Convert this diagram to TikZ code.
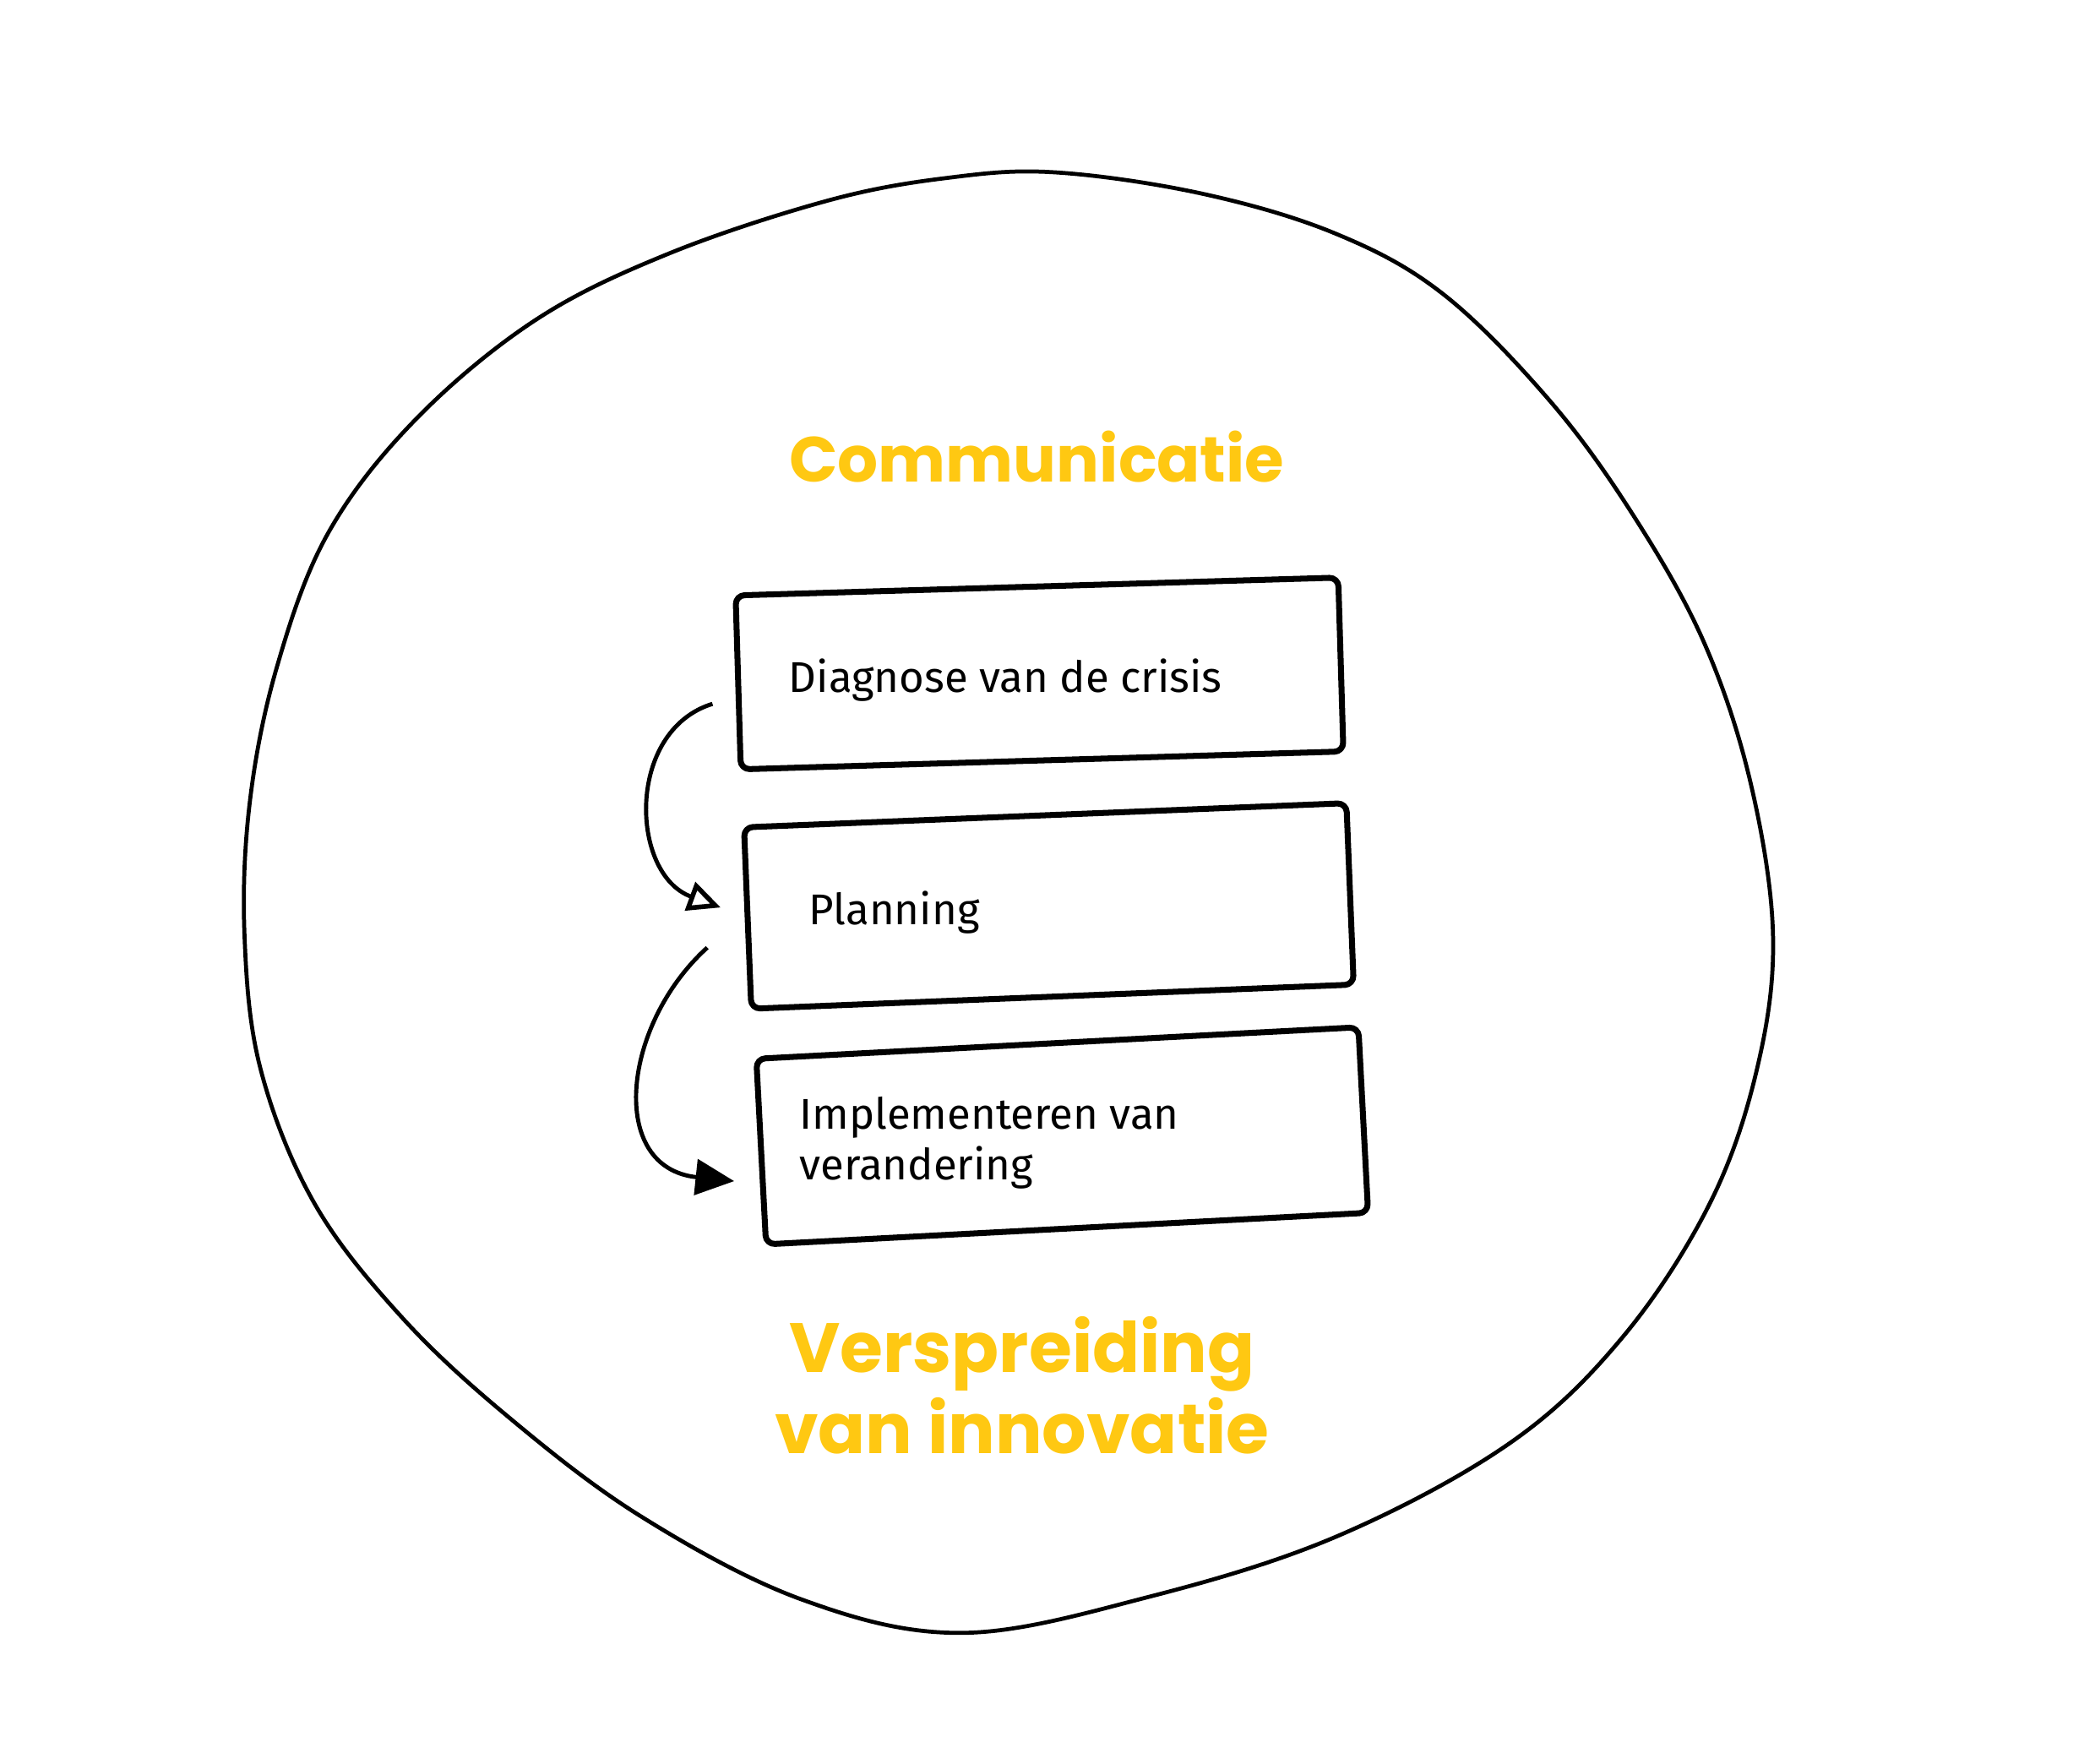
\documentclass[tikz,border=0pt]{standalone}
\usepackage{fontspec}
\setmainfont{Fira Sans}
\newfontfamily\titlefont{Poppins}
\usetikzlibrary{arrows.meta, positioning}
\definecolor{mYellow}{HTML}{FFC812}

\begin{document}
\begin{tikzpicture}[
    x=0.015816cm, y=-0.015816cm,
    ring/.style={draw, line width=1.35pt, line join=round},
    stepbox/.style={draw, line width=2pt, rounded corners=3pt, line join=round,
        minimum width=7.14cm, inner sep=0pt},
    label/.style={font=\fontsize{14.5}{17}\selectfont, anchor=base west, align=left, inner sep=0pt},
    title/.style={font=\titlefont\bfseries\fontsize{23.5}{27.5}\selectfont, text=mYellow,
        align=center, inner sep=0pt},
    arr/.style={line width=1.4pt, -{Triangle[length=13pt, width=12pt]}},
    arropen/.style={line width=1.4pt, -{Triangle[open, length=11pt, width=10pt, line width=1.6pt]}}
]
    \useasboundingbox (0,0) rectangle (1568,1320);

    % outer circle, drawn by hand
    \draw[ring] plot[smooth cycle, tension=0.6] coordinates {
        (790,129) (900,145) (1000,175) (1080,220) (1160,300) (1222,385)
        (1275,480) (1310,585) (1327,700) (1315,800) (1280,900) (1215,1000)
        (1130,1080) (1000,1150) (860,1195) (720,1222) (600,1197) (480,1135)
        (380,1060) (300,985) (235,900) (195,800) (183,700) (187,600)
        (207,500) (245,400) (310,315) (400,240) (500,190) (620,150) (710,133)};

    % the three steps
    \node[stepbox, minimum height=2.06cm, rotate=1.7] (diagbox) at (778,504) {};
    \node[stepbox, minimum height=2.15cm, rotate=2.3] (planbox) at (785,678) {};
    \node[stepbox, minimum height=2.2cm, rotate=3] (implbox) at (795,850) {};

    \node[label] (diag) at (590,518) {Diagnose van de crisis};
    \node[label] (plan) at (605,692) {Planning};
    \node[label] (impl) at (598,883) {Implementeren van\\verandering};

    % titles
    \node[title, font=\titlefont\bfseries\fontsize{21.5}{26}\selectfont, anchor=base] (comm) at (776,361) {Communicatie};
    \node[title, anchor=base] (spread) at (765,1088) {Verspreiding\\van innovatie};

    % arrows between the steps
    \draw[arropen] ([shift={(-17,16)}]diagbox.west) .. controls +(-65,20) and +(-68,-25) .. ([shift={(-18,-8)}]planbox.west);
    \draw[arr] ([shift={(-28,22)}]planbox.west) .. controls +(-64,58) and +(-95,-10) .. ([shift={(-18,22)}]implbox.west);
\end{tikzpicture}
\end{document}
